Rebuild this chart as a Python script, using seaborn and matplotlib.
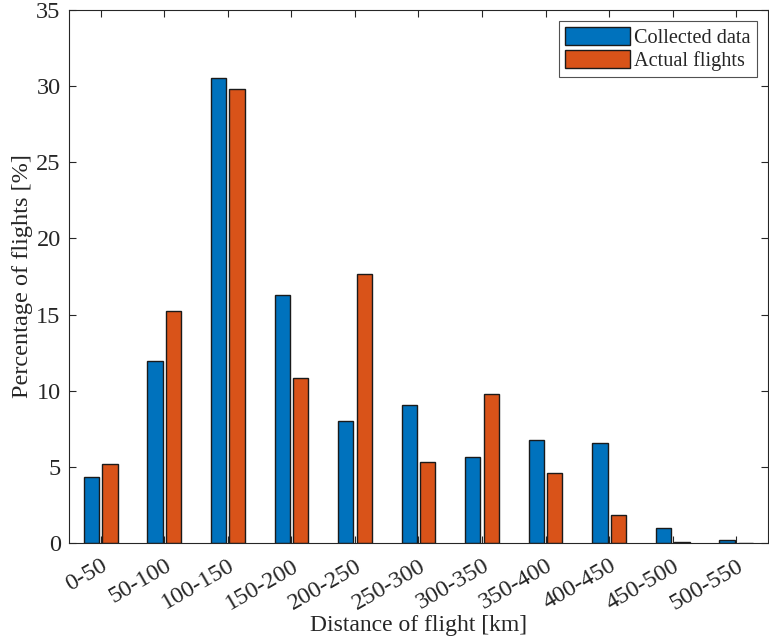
import matplotlib
matplotlib.use("Agg")
import matplotlib.pyplot as plt
import matplotlib.transforms as mtransforms
import seaborn as sns
import pandas as pd

# Flight distance bins and share of flights per bin
bins = ["0-50", "50-100", "100-150", "150-200", "200-250", "250-300",
        "300-350", "350-400", "400-450", "450-500", "500-550"]
collected = [4.35, 11.95, 30.5, 16.3, 8.0, 9.05, 5.65, 6.75, 6.55, 0.95, 0.17]
actual = [5.15, 15.2, 29.8, 10.85, 17.65, 5.3, 9.75, 4.6, 1.85, 0.05, 0.02]
series_names = ["Collected data", "Actual flights"]
yticks = [0, 5, 10, 15, 20, 25, 30, 35]

df = pd.DataFrame({
    "bin": bins * 2,
    "pct": collected + actual,
    "series": [series_names[0]] * len(bins) + [series_names[1]] * len(bins),
})

sns.set_theme(style="white")
plt.rcParams["font.family"] = ["Liberation Serif", "DejaVu Serif"]

fig = plt.figure(figsize=(7.69, 6.44), dpi=100)
ax = fig.add_axes([0.0897, 0.157, 0.9090, 0.8275])

palette = {series_names[0]: "#0072BD", series_names[1]: "#D95319"}
sns.barplot(data=df, x="bin", y="pct", hue="series", order=bins,
            hue_order=series_names, palette=palette, width=0.58, gap=0.17,
            edgecolor="#1a1a1a", linewidth=1.0, saturation=1.0, ax=ax)

ax.set_xlim(-0.5, len(bins) - 0.5)
ax.set_ylim(0, 35)
ax.set_yticks(yticks)
ax.set_yticklabels([str(v) for v in yticks], fontsize=17.5)
ax.set_xticks(range(len(bins)))
ax.set_xticklabels(bins, rotation=30, ha="right", rotation_mode="anchor", fontsize=17.5)

# nudge rotated category labels so their upper end sits just right of the tick
shift = mtransforms.ScaledTranslation(6 / 100, 0, fig.dpi_scale_trans)
for lbl in ax.get_xticklabels():
    lbl.set_transform(lbl.get_transform() + shift)

ax.set_xlabel("Distance of flight [km]", fontsize=17, labelpad=1)
ax.set_ylabel("Percentage of flights [%]", fontsize=17.5, labelpad=2)

ax.tick_params(direction="in", length=5, width=0.8, color="#262626",
               top=True, right=True, bottom=True, left=True, pad=6)
ax.tick_params(axis="x", pad=9)
for side in ["top", "bottom", "left", "right"]:
    ax.spines[side].set_visible(True)
    ax.spines[side].set_color("#262626")
    ax.spines[side].set_linewidth(0.8)

leg = ax.legend(loc="upper right", fontsize=14.6, frameon=True, fancybox=False,
                edgecolor="#262626", borderpad=0.3, handlelength=3.2,
                handleheight=0.95, handletextpad=0.2, labelspacing=0.12,
                borderaxespad=0.55)
leg.get_frame().set_linewidth(0.8)

fig.savefig("out.png", dpi=100)
